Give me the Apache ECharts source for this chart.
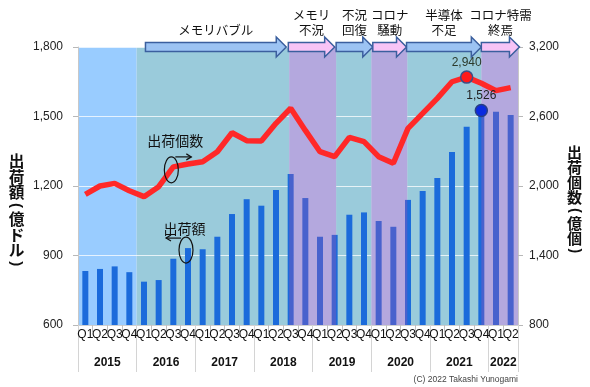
<!DOCTYPE html>
<html><head><meta charset="utf-8">
<script src="https://cdn.jsdelivr.net/npm/echarts@6/dist/echarts.min.js"></script>
<style>html,body{margin:0;padding:0;background:#fff}#c{width:590px;height:387px}</style>
</head><body><div id="c"></div>
<script>
// ---- data ----
const years = ['2015','2016','2017','2018','2019','2020','2021','2022'];
const quarters = ['Q1','Q2','Q3','Q4'];
const quartersPerYear = [4,4,4,4,4,4,4,2];
// 出荷額（億ドル）
const shipmentValue = [833,842,853,828, 787,794,886,932, 927,981,1079,1143, 1115,1183,1252,1148, 981,989,1076,1086, 1049,1024,1140,1178, 1235,1347,1456,1526, 1521,1507];
// 出荷個数（億個）
const shipmentUnits = [1928,2000,2023,1959, 1908,1994,2165,2190, 2210,2296,2460,2391, 2388,2541,2671,2480, 2296,2253,2420,2383, 2253,2196,2498,2627, 2757,2900,2940,2887, 2823,2849];
const rightTicks = [800,1400,2000,2600,3200];
// phases (in quarter units from 2015Q1 start)
const phaseLabels = ['メモリバブル','メモリ\n不況','不況\n回復','コロナ\n騒動','半導体\n不足','コロナ特需\n終焉'];
const phaseKinds  = ['up','down','up','down','up','down'];
const arrowFrom = [4.6, 14.34, 17.6, 20.1, 22.4, 27.5];
const arrowTo   = [14.2, 17.5, 20.1, 22.4, 27.5, 30.1];
const bandFrom = [0, 4, 14.4, 17.6, 20, 22.45, 27.5];
const bandTo   = [4, 14.4, 17.6, 20, 22.45, 27.5, 30];
const bandKind = ['base','up','down','up','down','up','down'];
const valuePeakIndex = 27, unitsPeakIndex = 26;
const leftTitle = ['出','荷','額','(','億','ド','ル',')'];
const rightTitle = ['出','荷','個','数','(','億','個',')'];

// ---- derived ----
const categories = [];
years.forEach((y,i)=>{ for(let q=0;q<quartersPerYear[i];q++) categories.push(y+quarters[q]); });
const N = categories.length;
const yearCenters = [], yearEdges = [0];
let acc = 0;
quartersPerYear.forEach(n=>{ yearCenters.push(acc + n/2); acc += n; yearEdges.push(acc); });
const fmt = v => Number(v).toLocaleString('en-US');
const NUM = 'Liberation Sans, Arial, sans-serif';
const JP = 'Noto Sans CJK JP, sans-serif';
const bandColors = {base:'#99ccff', up:'#9acbdb', down:'rgba(114,90,193,0.53)'};

function bandSeries(kinds, z){
  const data = [];
  bandKind.forEach((k,i)=>{ if(kinds.includes(k)) data.push([bandFrom[i], bandTo[i], i]); });
  return {
    type:'custom', xAxisIndex:1, yAxisIndex:0, z:z, silent:true, animation:false,
    encode:{x:[0,1], y:2},
    data:data,
    renderItem(params, api){
      const cs = params.coordSys;
      const x0 = api.coord([api.value(0), 1200])[0];
      const x1 = api.coord([api.value(1), 1200])[0];
      return {type:'rect', shape:{x:x0, y:cs.y, width:x1-x0, height:cs.height},
              style:{fill: bandColors[bandKind[api.value(2)]]}};
    }
  };
}

const chart = echarts.init(document.getElementById('c'));
const option = {
  animation:false,
  grid:{left:78, right:72, top:47, bottom:62},
  xAxis:[
    {type:'category', data:categories, position:'bottom', boundaryGap:true,
     axisLine:{show:true, lineStyle:{color:'#d0d0d0'}},
     axisTick:{show:true, interval:0, length:7, lineStyle:{color:'#c0c0c0'}},
     axisLabel:{interval:0, formatter:v=>v.slice(4), fontFamily:NUM, fontSize:12, color:'#111', margin:4},
     splitLine:{show:false}},
    {type:'value', min:0, max:N, position:'bottom', offset:0,
     axisLine:{show:false}, splitLine:{show:false},
     axisTick:{show:true, length:47, customValues:yearEdges, lineStyle:{color:'#d4d4d4'}},
     axisLabel:{customValues:yearCenters, formatter:v=>years[yearCenters.indexOf(v)] || '',
       fontFamily:NUM, fontWeight:'bold', fontSize:12, color:'#111', margin:32}}
  ],
  yAxis:[
    {type:'value', min:600, max:1800, interval:300, position:'left',
     axisLine:{show:true, lineStyle:{color:'#c8c8c8'}},
     axisTick:{show:true, length:5, lineStyle:{color:'#b8b8b8'}},
     axisLabel:{formatter:fmt, fontFamily:NUM, fontSize:12, color:'#222', margin:15},
     splitLine:{show:true, lineStyle:{color:'rgba(255,255,255,0.75)', width:1}}},
    {type:'value', min:800, max:3200, position:'right',
     axisLine:{show:true, lineStyle:{color:'#c8c8c8'}},
     axisTick:{show:true, length:5, customValues:rightTicks, lineStyle:{color:'#b8b8b8'}},
     axisLabel:{customValues:rightTicks, formatter:fmt, fontFamily:NUM, fontSize:12, color:'#222', margin:11},
     splitLine:{show:false}}
  ],
  series:[
    bandSeries(['base','up'], -1),
    {type:'bar', xAxisIndex:0, yAxisIndex:0, z:2, barWidth:6, data:shipmentValue,
     itemStyle:{color:'#1b6bdb'}, silent:true,
     markPoint:{symbol:'circle', symbolSize:12, silent:true,
       itemStyle:{color:'#0b2be0', borderColor:'#2a3f85', borderWidth:1.5},
       label:{show:true, position:'top', distance:2, formatter:p=>fmt(p.value), color:'#222', fontFamily:NUM, fontSize:12},
       data:[{coord:[valuePeakIndex, shipmentValue[valuePeakIndex]], value:shipmentValue[valuePeakIndex]}]}},
    bandSeries(['down'], 3),
    {type:'line', xAxisIndex:0, yAxisIndex:1, z:4, data:shipmentUnits, symbol:'none', silent:true,
     lineStyle:{color:'#ff2828', width:5.5},
     markPoint:{symbol:'circle', symbolSize:12, silent:true,
       itemStyle:{color:'#ff1a1a', borderColor:'#3e4f86', borderWidth:1.5},
       label:{show:true, position:'top', distance:2, formatter:p=>fmt(p.value), color:'#2b3a2b', fontFamily:NUM, fontSize:12},
       data:[{coord:[unitsPeakIndex, shipmentUnits[unitsPeakIndex]], value:shipmentUnits[unitsPeakIndex]}]}}
  ]
};
chart.setOption(option);

// ---- annotations positioned through the axes ----
const ux = u => chart.convertToPixel({xAxisIndex:1}, u);
const cx = i => chart.convertToPixel({xAxisIndex:0}, i);
const ly = v => chart.convertToPixel({yAxisIndex:0}, v);
const ry = v => chart.convertToPixel({yAxisIndex:1}, v);
const topY = ly(1800);
const g = [];
phaseLabels.forEach((lab,i)=>{
  const x0 = ux(arrowFrom[i]), x1 = ux(arrowTo[i]), h = 10;
  const pts = [[x0,topY-4.5],[x1-h,topY-4.5],[x1-h,topY-10],[x1,topY],[x1-h,topY+10],[x1-h,topY+4.5],[x0,topY+4.5]];
  g.push({type:'polygon', z:20, shape:{points:pts},
    style:{fill: phaseKinds[i]==='up' ? '#9cc3f3' : '#f7c4f6', stroke:'#3b5f9e', lineWidth:1.5}});
  g.push({type:'text', z:21, x:(x0+x1)/2, y:topY-9,
    style:{text:lab, fontFamily:JP, fontSize:12.5, lineHeight:15, fill:'#111', align:'center', verticalAlign:'bottom'}});
});
// 出荷個数 label (line, right axis)
const lp = [cx(6), ry(shipmentUnits[6])];
g.push({type:'text', z:21, x:lp[0]+2, y:lp[1]-26, style:{text:'出荷個数', fontFamily:JP, fontSize:14, fill:'#111', align:'center', verticalAlign:'middle'}});
g.push({type:'ellipse', z:21, shape:{cx:lp[0]-2, cy:lp[1]+3, rx:7, ry:13}, style:{fill:'none', stroke:'#111', lineWidth:1.2}});
g.push({type:'polyline', z:21, shape:{points:[[lp[0]+2,lp[1]-10],[lp[0]+18,lp[1]-10]]}, style:{stroke:'#111', lineWidth:1.2}});
g.push({type:'polyline', z:21, shape:{points:[[lp[0]+13,lp[1]-13],[lp[0]+18,lp[1]-10],[lp[0]+13,lp[1]-7]]}, style:{stroke:'#111', fill:'none', lineWidth:1.2}});
// 出荷額 label (bars, left axis)
const bp = [cx(7), ly(shipmentValue[7])];
g.push({type:'text', z:21, x:bp[0]-3.5, y:bp[1]-19, style:{text:'出荷額', fontFamily:JP, fontSize:14, fill:'#111', align:'center', verticalAlign:'middle'}});
g.push({type:'ellipse', z:21, shape:{cx:bp[0]-2, cy:bp[1]+2, rx:7, ry:13}, style:{fill:'none', stroke:'#111', lineWidth:1.2}});
g.push({type:'polyline', z:21, shape:{points:[[bp[0]-7,bp[1]-10],[bp[0]-22,bp[1]-10]]}, style:{stroke:'#111', lineWidth:1.2}});
g.push({type:'polyline', z:21, shape:{points:[[bp[0]-17,bp[1]-13],[bp[0]-22,bp[1]-10],[bp[0]-17,bp[1]-7]]}, style:{stroke:'#111', fill:'none', lineWidth:1.2}});
// axis titles (vertical, char by char; parentheses rotated)
function verticalTitle(chars, x, yTop, size){
  let y = yTop;
  chars.forEach(c=>{
    const paren = (c==='(' || c===')');
    const step = paren ? size*0.7 : size;
    const cy = y + step/2;
    g.push({type:'text', z:21, x:x, y:cy, rotation: paren ? -Math.PI/2 : 0,
      style:{text:c, fontFamily: paren ? NUM : JP, fontSize: paren ? size*0.95 : size, fontWeight:'bold', fill:'#111', align:'center', verticalAlign:'middle'}});
    y += step;
  });
}
verticalTitle(leftTitle, 16.5, 153, 15.7);
verticalTitle(rightTitle, 574.5, 145, 15);
// copyright
g.push({type:'text', z:21, x:ux(N), y:380, style:{text:'(C) 2022 Takashi Yunogami', fontFamily:NUM, fontSize:8.5, fill:'#444', align:'right', verticalAlign:'middle'}});
chart.setOption({graphic:g});
</script></body></html>
